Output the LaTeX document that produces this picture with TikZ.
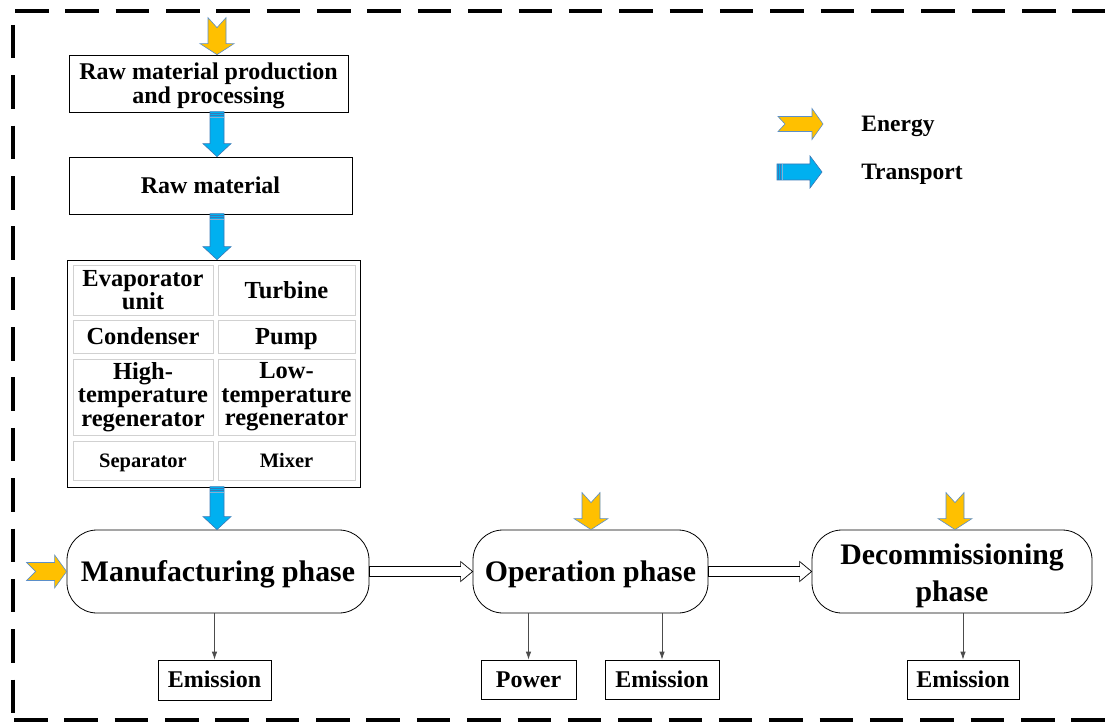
\documentclass[tikz,border=0pt]{standalone}
\usepackage{fontspec}
\setmainfont{Liberation Serif}
\usetikzlibrary{calc,arrows.meta}
\definecolor{egy}{HTML}{FFC000}
\definecolor{egyline}{HTML}{5B8FC9}
\definecolor{trn}{HTML}{00B0F0}
\definecolor{trnline}{HTML}{3A78B5}
\newcommand{\capc}[1]{\smash{#1}\vphantom{E}}
\newcommand{\mlines}[2][3pt]{\raisebox{\dimexpr-#1-0.25em\relax}[0pt][0pt]{\begin{tabular}{@{}c@{}}#2\end{tabular}}}
\tikzset{
  x=1pt, y=-1pt,
  border/.style={line width=3.3pt, dash pattern=on 33.5pt off 16.85pt},
  box/.style={draw, line width=0.7pt, inner sep=0pt, align=center,
    font=\bfseries\fontsize{24}{24}\selectfont},
  cell/.style={draw=black!18, line width=1pt, inner sep=0pt, align=center,
    font=\bfseries\fontsize{24.5}{23.5}\selectfont},
  smallcell/.style={cell, font=\bfseries\fontsize{20.5}{22}\selectfont},
  phase/.style={draw, line width=0.8pt, rounded corners=30pt, inner sep=0pt,
    align=center, minimum height=83pt, font=\bfseries\fontsize{29.8}{37}\selectfont},
  legendtext/.style={inner sep=0pt, font=\bfseries\fontsize{23.5}{25}\selectfont},
  conn/.style={draw=black!70, line width=0.8pt, -{Latex[length=8pt,width=5.5pt]}},
  hollow/.style={draw, line width=0.7pt, fill=white},
  energyfill/.style={fill=egy, draw=egyline, line width=0.6pt},
  transfill/.style={fill=trn, draw=trnline, line width=0.6pt},
  stripe/.style={draw=trnline, line width=0.8pt},
  pics/energy/.style n args={5}{code={
    \path[energyfill] (0,0) -- (-#4,#2) -- (-#4,#3) -- (-#1,#3) -- (-#1+#5,0)
      -- (-#1,-#3) -- (-#4,-#3) -- (-#4,-#2) -- cycle;
  }},
  pics/transport/.style n args={4}{code={
    \path[transfill] (0,0) -- (-#4,#2) -- (-#4,#3) -- (-#1,#3) -- (-#1,-#3)
      -- (-#4,-#3) -- (-#4,-#2) -- cycle;
    \draw[stripe] (-#1+1.5,#3) -- (-#1+1.5,-#3);
    \draw[stripe] (-#1+3.8,#3) -- (-#1+3.8,-#3);
    \draw[stripe, draw=trnline!60] (-#1+5.8,#3) -- (-#1+5.8,-#3);
  }},
}
\begin{document}
\begin{tikzpicture}
\useasboundingbox (0,0) rectangle (1105,722);
% dashed frame
\draw[border] (15,11) -- (1105,11);
\draw[border] (13,25) -- (13,722);
\draw[border] (14,720) -- (1105,720);

% top chain
\node[box, minimum width=279pt, minimum height=57pt] (rawprod) at (208.5,83.5)
  {\mlines{Raw material production\\and processing}};
\node[box, minimum width=283pt, minimum height=57pt] (rawmat) at (210.5,185.5)
  {\capc{Raw material}};
\node[draw, line width=0.7pt, minimum width=293pt, minimum height=227pt, inner sep=0pt] (comp) at (213.5,373.5) {};
\node[cell, minimum width=140pt, minimum height=50pt] (c11) at (143,290) {Evaporator\\unit};
\node[cell, minimum width=137pt, minimum height=50pt] (c12) at (286.5,290) {\capc{Turbine}};
\node[cell, minimum width=140pt, minimum height=33pt] (c21) at (143,336.5) {\capc{Condenser}};
\node[cell, minimum width=137pt, minimum height=33pt] (c22) at (286.5,336.5) {\capc{Pump}};
\node[cell, minimum width=140pt, minimum height=76pt] (c31) at (143,397) {High-\\temperature\\regenerator};
\node[cell, minimum width=137pt, minimum height=76pt] (c32) at (286.5,397) {Low-\\temperature\\regenerator};
\node[smallcell, minimum width=140pt, minimum height=39pt] (c41) at (143,460.5) {\capc{Separator}};
\node[smallcell, minimum width=137pt, minimum height=39pt] (c42) at (286.5,460.5) {\capc{Mixer}};

% phases
\node[phase, minimum width=302pt] (manu) at (218,571.5) {\capc{Manufacturing phase}};
\node[phase, minimum width=235pt] (oper) at (590.5,571.5) {\capc{Operation phase}};
\node[phase, minimum width=280pt] (decom) at (952,571.5) {\mlines{Decommissioning\\phase}};

% outputs
\node[box, minimum width=113pt, minimum height=40pt] (em1) at (214.5,680) {\capc{Emission}};
\node[box, minimum width=95pt, minimum height=39pt] (power) at (528.5,679.5) {\capc{Power}};
\node[box, minimum width=114pt, minimum height=39pt] (em2) at (662,679.5) {\capc{Emission}};
\node[box, minimum width=112pt, minimum height=39pt] (em3) at (963,679.5) {\capc{Emission}};

\draw[conn] (em1.north |- manu.south) -- (em1.north);
\draw[conn] (power.north |- oper.south) -- (power.north);
\draw[conn] (em2.north |- oper.south) -- (em2.north);
\draw[conn] (em3.north |- decom.south) -- (em3.north);

% hollow arrows between phases
\draw[hollow] ($(manu.east)+(0,-5)$) -- ($(oper.west)+(-12,-5)$) -- ($(oper.west)+(-12,-10)$)
  -- (oper.west) -- ($(oper.west)+(-12,10)$) -- ($(oper.west)+(-12,5)$) -- ($(manu.east)+(0,5)$) -- cycle;
\draw[hollow] ($(oper.east)+(0,-5)$) -- ($(decom.west)+(-12,-5)$) -- ($(decom.west)+(-12,-10)$)
  -- (decom.west) -- ($(decom.west)+(-12,10)$) -- ($(decom.west)+(-12,5)$) -- ($(oper.east)+(0,5)$) -- cycle;

% energy arrows
\pic[rotate=-90] at (rawprod.north -| 217,0) {energy={37}{17}{9}{11}{10}};
\pic[rotate=-90] at (oper.north -| 591,0) {energy={37}{17}{9}{11}{10}};
\pic[rotate=-90] at (decom.north -| 955,0) {energy={37}{17}{9}{11}{10}};
\pic at (manu.west) {energy={40}{16.5}{9}{12}{9}};

% transport arrows
\pic[rotate=-90] at (rawmat.north -| 217,0) {transport={45}{14}{7}{13}};
\pic[rotate=-90] at (comp.north -| 217,0) {transport={46}{14}{7}{13}};
\pic[rotate=-90] at (manu.north -| 217,0) {transport={43}{14}{7}{13}};

% legend
\coordinate (legE) at (823,124);
\coordinate (legT) at (822,172);
\pic at (legE) {energy={45}{15.5}{7.5}{11}{7}};
\pic at (legT) {transport={45}{16}{8}{12}};
\node[legendtext] (tE) at (898,124) {\capc{Energy}};
\node[legendtext] (tT) at (912,172) {\capc{Transport}};
\end{tikzpicture}
\end{document}
